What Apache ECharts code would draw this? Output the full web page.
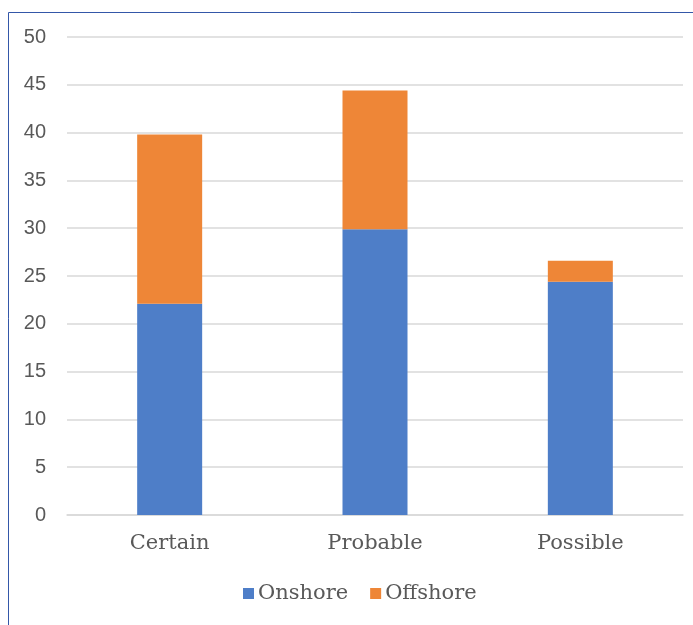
<!DOCTYPE html>
<html>
<head>
<meta charset="utf-8">
<script src="https://cdn.jsdelivr.net/npm/echarts@6/dist/echarts.min.js"></script>
<style>
  html, body { margin: 0; padding: 0; background: #fff; }
  #chart { width: 693px; height: 625px; }
</style>
</head>
<body>
<div id="chart"></div>
<script>
  const categories = ["Certain", "Probable", "Possible"];
  const onshore = [22.1, 29.9, 24.4];
  const offshore = [17.7, 14.5, 2.2];
  const seriesNames = ["Onshore", "Offshore"];

  const textColor = "#595959";
  const serifFont = "DejaVu Serif";

  const chart = echarts.init(document.getElementById("chart"));
  const option = {
    animation: false,
    color: ["#4E7EC8", "#EE8637"],
    // thin blue frame on the left and top
    graphic: [
      {
        type: "polyline",
        shape: { points: [[8.5, 625], [8.5, 12.5], [693, 12.5]] },
        style: { stroke: "#3457A8", lineWidth: 1, fill: null },
      },
    ],
    legend: {
      left: 238,
      top: 578,
      icon: "rect",
      itemWidth: 11,
      itemHeight: 11,
      itemGap: 22,
      textStyle: {
        color: textColor,
        fontFamily: serifFont,
        fontSize: 21,
        padding: [0, 0, 0, -1],
      },
      data: seriesNames,
    },
    grid: {
      left: 67,
      right: 10,
      top: 37,
      bottom: 110,
      containLabel: false,
    },
    xAxis: {
      type: "category",
      data: categories,
      axisLine: { show: true, lineStyle: { color: "#d9d9d9", width: 1.5 } },
      axisTick: { show: false },
      axisLabel: {
        color: textColor,
        fontFamily: serifFont,
        fontSize: 21,
        margin: 18,
      },
    },
    yAxis: {
      type: "value",
      min: 0,
      max: 50,
      interval: 5,
      axisLine: { show: false },
      axisTick: { show: false },
      splitLine: { show: true, lineStyle: { color: "#d9d9d9", width: 1.5 } },
      axisLabel: {
        color: textColor,
        fontFamily: "Liberation Sans",
        fontSize: 20,
        margin: 21,
      },
    },
    series: [
      {
        name: seriesNames[0],
        type: "bar",
        stack: "total",
        barWidth: 65,
        data: onshore,
      },
      {
        name: seriesNames[1],
        type: "bar",
        stack: "total",
        barWidth: 65,
        data: offshore,
      },
    ],
  };
  chart.setOption(option);
</script>
</body>
</html>
